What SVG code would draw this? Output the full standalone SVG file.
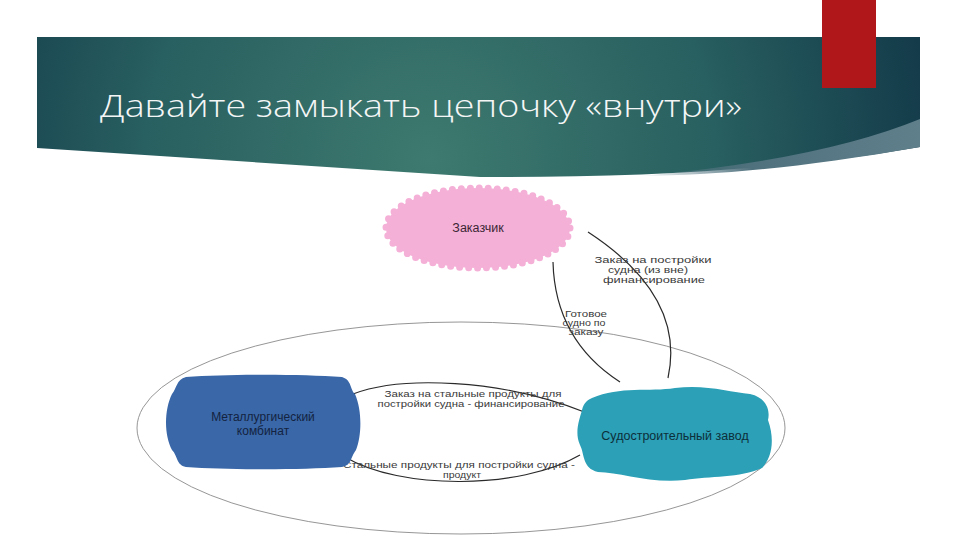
<svg xmlns="http://www.w3.org/2000/svg" width="960" height="540" viewBox="0 0 960 540">
  <defs>
    <radialGradient id="bannerGrad" gradientUnits="userSpaceOnUse" cx="430" cy="160" r="520">
      <stop offset="0" stop-color="#3e7a6f"/>
      <stop offset="0.55" stop-color="#285f60"/>
      <stop offset="1" stop-color="#123848"/>
    </radialGradient>
    <linearGradient id="swooshGrad" x1="0" y1="0" x2="1" y2="0">
      <stop offset="0" stop-color="#5b7c88" stop-opacity="0"/>
      <stop offset="0.4" stop-color="#4f717d"/>
      <stop offset="1" stop-color="#5f7f8b"/>
    </linearGradient>
    <style>
      .title { font-family: "Open Sans", "Liberation Sans", "DejaVu Sans", sans-serif; font-weight: 300; font-size: 31px; fill: #f4f6f6; }
      .node-text { font-family: "Liberation Sans", "DejaVu Sans", sans-serif; font-size: 12.5px; text-anchor: middle; }
      .label { font-family: "Liberation Sans", "DejaVu Sans", sans-serif; font-size: 9.5px; fill: #3a3a3a; text-anchor: middle; }
      .label-s { font-family: "Liberation Sans", "DejaVu Sans", sans-serif; font-size: 8.8px; fill: #3a3a3a; text-anchor: middle; }
      .conn { fill: none; stroke: #2a2a2a; stroke-width: 1.2; }
      .outline { fill: none; stroke: #8a8a8a; stroke-width: 0.9; }
    </style>
  </defs>

  <rect x="0" y="0" width="960" height="540" fill="#ffffff"/>

  <!-- Title banner -->
  <g id="banner">
    <path d="M37,37 H920 V147 C800,168 650,178 480,177 L37,148 Z" fill="url(#bannerGrad)"/>
    <path d="M640,176 Q820,160 920,119 L920,147 C800,168 720,175 640,176 Z" fill="url(#swooshGrad)"/>
    <rect x="822" y="0" width="54" height="88" fill="#b0171b"/>
    <text class="title" x="100" y="117" textLength="642" lengthAdjust="spacingAndGlyphs">Давайте замыкать цепочку «внутри»</text>
  </g>

  <!-- Large outline ellipse -->
  <g id="boundary">
    <ellipse class="outline" cx="461" cy="428" rx="324" ry="106"/>
  </g>

  <!-- Connectors -->
  <g id="connectors">
    <path class="conn" d="M588,232 Q686,296 668,378"/>
    <path class="conn" d="M553,262 Q555,340 620,382"/>
    <path class="conn" d="M353,394 C400,376 500,378 587,413"/>
    <path class="conn" d="M345,457 C400,490 520,490 580,455"/>
  </g>

  <!-- Connector labels -->
  <g id="labels">
    <text class="label" x="653" y="263" textLength="117" lengthAdjust="spacingAndGlyphs">Заказ на постройки</text>
    <text class="label" x="648" y="273" textLength="80" lengthAdjust="spacingAndGlyphs">судна (из вне)</text>
    <text class="label" x="654" y="283" textLength="102" lengthAdjust="spacingAndGlyphs">финансирование</text>

    <text class="label-s" x="586" y="317" textLength="42" lengthAdjust="spacingAndGlyphs">Готовое</text>
    <text class="label-s" x="584" y="326" textLength="43" lengthAdjust="spacingAndGlyphs">судно по</text>
    <text class="label-s" x="586" y="335" textLength="35" lengthAdjust="spacingAndGlyphs">заказу</text>

    <text class="label" x="473" y="397" textLength="177" lengthAdjust="spacingAndGlyphs">Заказ на стальные продукты для</text>
    <text class="label" x="471" y="407" textLength="187" lengthAdjust="spacingAndGlyphs">постройки судна - финансирование</text>

    <text class="label" x="459" y="468" textLength="232" lengthAdjust="spacingAndGlyphs">Стальные продукты для постройки судна -</text>
    <text class="label" x="462" y="478" textLength="38" lengthAdjust="spacingAndGlyphs">продукт</text>
  </g>

  <!-- Node: Заказчик -->
  <g id="node-customer">
    <ellipse cx="478" cy="228" rx="92" ry="40" fill="#f5b0d7"/>
    <ellipse cx="478" cy="228" rx="92" ry="40" fill="none" stroke="#f5b0d7" stroke-width="7" stroke-linecap="round" stroke-dasharray="0 9"/>
    <text class="node-text" x="478" y="232" fill="#3a2634">Заказчик</text>
  </g>

  <!-- Node: Металлургический комбинат -->
  <g id="node-steel">
    <path d="M186,377 C230,374 300,374 342,377 C352,380 350,390 355,394 C362,410 362,435 356,450 C350,458 352,465 342,467 C300,470 230,470 186,467 C176,465 178,456 172,450 C164,435 164,410 172,394 C177,388 176,380 186,377 Z" fill="#3967a8"/>
    <text class="node-text" x="263" y="421" fill="#14233f" style="font-size:12px">Металлургический</text>
    <text class="node-text" x="263" y="435" fill="#14233f" style="font-size:12px">комбинат</text>
  </g>

  <!-- Node: Судостроительный завод -->
  <g id="node-shipyard">
    <path d="M592,398 C620,386 650,392 675,388 C705,384 730,392 750,394 C768,398 770,412 768,420 C775,440 772,458 762,468 C740,478 710,476 685,480 C650,484 620,472 598,472 C582,468 585,455 580,445 C574,432 580,418 582,410 C584,402 588,400 592,398 Z" fill="#2ba0b7"/>
    <text class="node-text" x="675" y="440" fill="#0d2f3a">Судостроительный завод</text>
  </g>
</svg>
